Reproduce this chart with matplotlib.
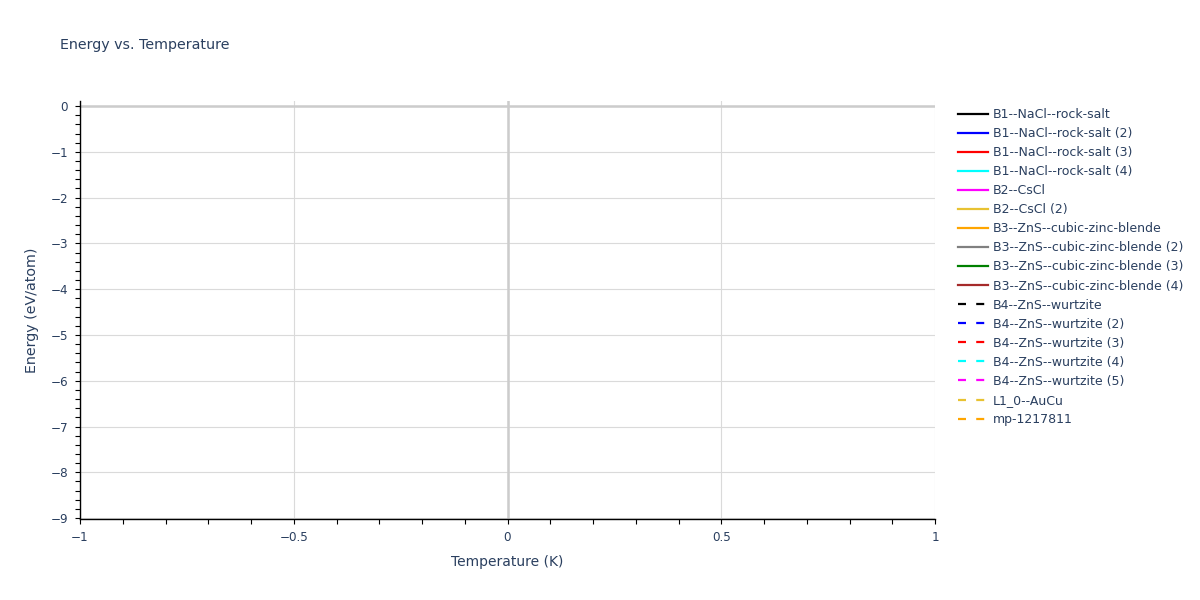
import matplotlib
matplotlib.use("Agg")
import matplotlib.pyplot as plt
from matplotlib.ticker import MultipleLocator

# ---- data (series have no points in the reference) ----
series_names = [
    "B1--NaCl--rock-salt", "B1--NaCl--rock-salt (2)", "B1--NaCl--rock-salt (3)",
    "B1--NaCl--rock-salt (4)", "B2--CsCl", "B2--CsCl (2)",
    "B3--ZnS--cubic-zinc-blende", "B3--ZnS--cubic-zinc-blende (2)",
    "B3--ZnS--cubic-zinc-blende (3)", "B3--ZnS--cubic-zinc-blende (4)",
    "B4--ZnS--wurtzite", "B4--ZnS--wurtzite (2)", "B4--ZnS--wurtzite (3)",
    "B4--ZnS--wurtzite (4)", "B4--ZnS--wurtzite (5)", "L1_0--AuCu", "mp-1217811",
]
series_colors = [
    "black", "blue", "red", "cyan", "magenta", "#e8c232", "orange", "gray",
    "green", "brown", "black", "blue", "red", "cyan", "magenta", "#e8c232", "orange",
]
series_dashed = [False] * 10 + [True] * 7
series_x = [[] for _ in series_names]
series_y = [[] for _ in series_names]

x_range = (-1, 1)
y_range = (-9.02, 0.11)
x_labels = [-1, -0.5, 0, 0.5, 1]
y_labels = list(range(-9, 1))

TXT = "#2a3f5f"
plt.rcParams["font.family"] = ["DejaVu Sans"]

fig = plt.figure(figsize=(12, 6), dpi=100)
ax = fig.add_axes([80 / 1200, 1 - 519 / 600, 855 / 1200, 418 / 600])

for name, col, dash, xs, ys in zip(series_names, series_colors, series_dashed, series_x, series_y):
    ln, = ax.plot(xs, ys, color=col, lw=1.6, label=name)
    if dash:
        ln.set_dashes((3.6, 4.6))

ax.set_xlim(*x_range)
ax.set_ylim(*y_range)

ax.set_xticks(x_labels)
ax.set_xticklabels(["\u22121", "\u22120.5", "0", "0.5", "1"])
ax.set_yticks(y_labels)
ax.set_yticklabels([("\u2212%d" % -v) if v < 0 else str(v) for v in y_labels])
ax.xaxis.set_minor_locator(MultipleLocator(0.1))
ax.yaxis.set_minor_locator(MultipleLocator(0.2))

ax.tick_params(axis="both", which="both", direction="out", color="black",
               length=3.6, width=0.8, labelsize=8.64, labelcolor=TXT, pad=5)

ax.grid(True, which="major", color="#dadada", lw=0.8)
ax.axhline(0, color="#cccccc", lw=1.8, zorder=1.5)
ax.axvline(0, color="#cccccc", lw=1.8, zorder=1.5)
ax.set_axisbelow(True)

for s in ["top", "right"]:
    ax.spines[s].set_visible(False)
for s in ["left", "bottom"]:
    ax.spines[s].set_color("black")
    ax.spines[s].set_linewidth(1.0)

ax.set_xlabel("Temperature (K)", fontsize=10, color=TXT, labelpad=8)
ax.set_ylabel("Energy (eV/atom)", fontsize=10.3, color=TXT, labelpad=8)

fig.text(60 / 1200, 1 - 45 / 600, "Energy vs. Temperature", fontsize=10.3,
         color=TXT, ha="left", va="center")

leg = fig.legend(loc="upper left", bbox_to_anchor=(958 / 1200, 1 - 108 / 600),
                 frameon=False, fontsize=9, handlelength=2.4, handletextpad=0.4,
                 labelspacing=0.485, borderpad=0, borderaxespad=0)
for t in leg.get_texts():
    t.set_color(TXT)

fig.savefig("out.png", dpi=100)
